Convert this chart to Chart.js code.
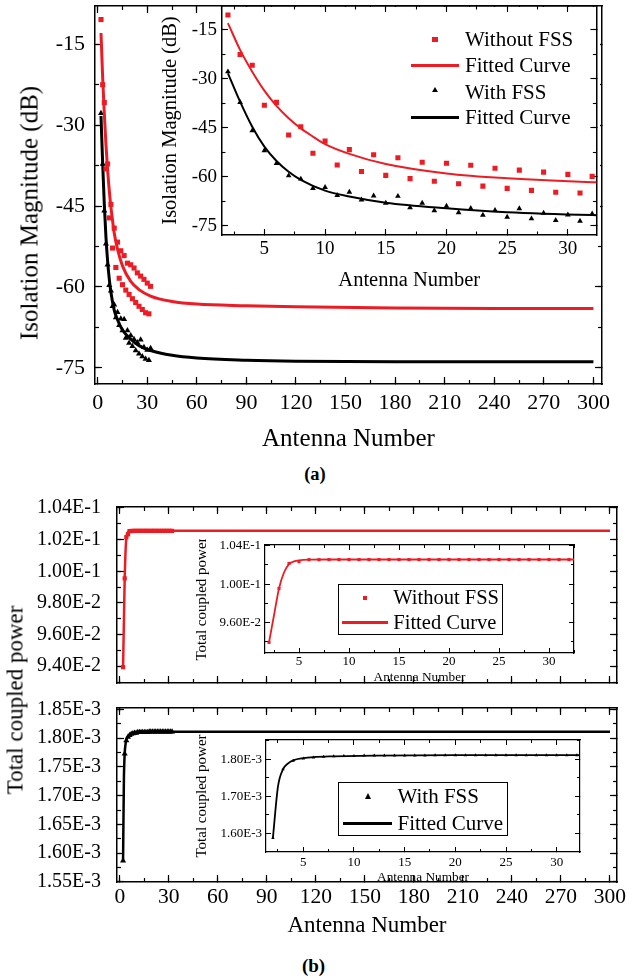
<!DOCTYPE html>
<html>
<head>
<meta charset="utf-8">
<title>Isolation and total coupled power vs antenna number</title>
<script src="https://cdn.jsdelivr.net/npm/chart.js@4.4.1/dist/chart.umd.min.js"></script>
<style>
  html, body { margin: 0; padding: 0; background: #fff; }
  #page { position: relative; width: 633px; height: 978px; overflow: hidden;
          font-family: "Liberation Serif", "Times New Roman", serif; color: #000; }
  #page canvas { position: absolute; }
  .txt { position: absolute; white-space: nowrap; line-height: 1; }
  .rot { transform: translate(-50%, -50%) rotate(-90deg); }
  .ctr { transform: translate(-50%, -50%); }
  .legbox { position: absolute; border: 1px solid #000; box-sizing: border-box; }
  .mk { position: absolute; }
</style>
</head>
<body>
<div id="page">
  <canvas id="aMain"></canvas>
  <canvas id="aInset"></canvas>
  <canvas id="bTop"></canvas>
  <canvas id="bBottom"></canvas>
  <canvas id="bTopInset"></canvas>
  <canvas id="bBottomInset"></canvas>
  <div class="txt rot" style="left:28.5px;top:213px;font-size:25px;">Isolation Magnitude (dB)</div>
  <div class="txt ctr" style="left:315px;top:474px;font-size:18.5px;font-weight:bold;">(a)</div>
  <div class="txt rot" style="left:14.5px;top:700px;font-size:23px;">Total coupled power</div>
  <div class="txt ctr" style="left:313.5px;top:965px;font-size:19px;font-weight:bold;">(b)</div>
</div>
<script>
var FONT = '"Liberation Serif", "Times New Roman", serif';
Chart.defaults.font.family = FONT;
Chart.defaults.color = '#000';

var RED = '#ED1C24';
var BLACK = '#000000';

// measured antennas
var antennaNumber = [2, 3, 4, 5, 6, 7, 8, 9, 10, 11, 12, 13, 14, 15, 16, 17,
  18, 19, 20, 21, 22, 23, 24, 25, 26, 27, 28, 29, 30, 31, 32];

// (a) isolation magnitude (dB)
var isoWithoutFss = [-10.4, -22.5, -25.8, -38.1, -37.2, -47.2, -44.7, -52.8, -49.1, -56.4,
  -51.7, -58.4, -53.3, -59.6, -54.2, -60.6, -55.6, -61.4, -55.9, -62.2, -56.5, -62.9,
  -57.4, -63.6, -58.0, -64.2, -58.6, -64.8, -59.3, -65.0, -59.9];
var isoWithFss = [-27.8, -37.2, -45.9, -52.0, -55.9, -59.7, -60.7, -63.6, -63.3, -65.7,
  -64.7, -67.1, -65.9, -68.1, -66.0, -69.5, -68.1, -70.4, -69.0, -71.0, -69.7, -71.8,
  -70.3, -72.4, -69.8, -72.9, -71.2, -73.4, -71.7, -73.6, -71.4];

// fitted curves
var isoFitWithoutX = [2, 3, 4, 5, 6, 7, 8, 9, 10, 12, 15, 20, 25, 32, 45, 60, 90, 120, 180, 240, 300];
var isoFitWithoutY = [-12.9, -21.1, -27.8, -33.6, -38.3, -42.1, -45.2, -47.7, -50.0, -53.0,
  -56.1, -59.0, -60.5, -61.7, -62.7, -63.2, -63.5, -63.7, -63.9, -64.0, -64.0];
var isoFitWithX = [2, 3, 4, 5, 6, 7, 8, 10, 12, 15, 20, 25, 32, 45, 60, 90, 120, 180, 240, 300];
var isoFitWithY = [-28.3, -37.0, -44.7, -50.8, -55.2, -58.5, -61.0, -64.3, -66.1, -68.0,
  -69.7, -70.9, -71.8, -72.7, -73.2, -73.6, -73.8, -73.9, -73.9, -73.9];

// (b) total coupled power
var powerWithoutFss = [0.09394, 0.09955, 0.10215, 0.10233, 0.10254, 0.10254, 0.10255,
  0.10255, 0.10255, 0.10255, 0.10255, 0.10255, 0.10255, 0.10255, 0.10255, 0.10255,
  0.10255, 0.10255, 0.10255, 0.10255, 0.10255, 0.10255, 0.10255, 0.10255, 0.10255,
  0.10255, 0.10255, 0.10255, 0.10255, 0.10255, 0.10255];
var powerWithFss = [0.001587, 0.001773, 0.001796, 0.001802, 0.001805, 0.001807, 0.001808,
  0.001809, 0.001809, 0.00181, 0.00181, 0.00181, 0.00181, 0.00181, 0.00181, 0.00181,
  0.001811, 0.001811, 0.001811, 0.001811, 0.001811, 0.001811, 0.001811, 0.001811,
  0.001811, 0.001811, 0.001811, 0.001811, 0.001811, 0.001811, 0.001811];

var powerFitWithoutX = [2, 2.5, 3, 3.5, 4, 4.5, 5, 6, 8, 12, 20, 32, 60, 120, 200, 300];
var powerFitWithoutY = [0.09394, 0.09676, 0.09955, 0.10121, 0.10209, 0.10236, 0.10247,
  0.10254, 0.10256, 0.10256, 0.10256, 0.10256, 0.10256, 0.10256, 0.10256, 0.10256];
var powerFitWithX = [2, 2.5, 3, 3.5, 4, 5, 6, 8, 12, 20, 32, 60, 120, 200, 300];
var powerFitWithY = [0.001587, 0.001726, 0.001773, 0.001789, 0.001797, 0.001803, 0.001806,
  0.001808, 0.00181, 0.001811, 0.001811, 0.001811, 0.001811, 0.001811, 0.001811];

// tick labels
var mainXTicks = [0, 30, 60, 90, 120, 150, 180, 210, 240, 270, 300];
var insetXTicks = [5, 10, 15, 20, 25, 30];
var isoYTicks = [-75, -60, -45, -30, -15];
var powerTopYTicks = [0.094, 0.096, 0.098, 0.100, 0.102, 0.104];
var powerBottomYTicks = [0.00155, 0.0016, 0.00165, 0.0017, 0.00175, 0.0018, 0.00185];
var powerTopInsetYTicks = [0.096, 0.100, 0.104];
var powerBottomInsetYTicks = [0.0016, 0.0017, 0.0018];


function pts(xs, ys) {
  return xs.map(function(x, i) { return {x: x, y: ys[i]}; });
}

function sci(v) {
  return v.toExponential(2).replace('e', 'E');
}

function minorValues(a) {
  var start = Math.min.apply(null, a.ticks);
  while (start - a.minor >= a.min) start -= a.minor;
  var out = [];
  for (var k = 0; start + k * a.minor <= a.max + 1e-12; k++) {
    out.push(parseFloat((start + k * a.minor).toPrecision(12)));
  }
  return out;
}

// box with inward ticks on all four sides, minor ticks on extra zero-size axes
function frameScales(cfg) {
  var scales = {};
  ['x', 'y'].forEach(function(ax) {
    var a = cfg[ax];
    var horiz = ax === 'x';
    var sides = horiz ? ['bottom', 'top'] : ['left', 'right'];
    var minors = minorValues(a);
    sides.forEach(function(side, mirror) {
      [false, true].forEach(function(isMinor) {
        var id = ax + (mirror ? 'Mirror' : '') + (isMinor ? 'Minor' : '');
        var values = isMinor ? minors : a.ticks;
        var main = !mirror && !isMinor;
        var size = main ? a.size : 0;
        scales[id] = {
          type: 'linear',
          axis: ax,
          position: side,
          min: a.min,
          max: a.max,
          weight: isMinor ? 0 : 1,
          border: {display: !isMinor, color: '#000', width: cfg.border},
          grid: {
            drawOnChartArea: false,
            drawTicks: true,
            tickLength: -(isMinor ? cfg.minorLen : cfg.majorLen),
            tickColor: '#000',
            tickWidth: cfg.tickWidth
          },
          ticks: {
            display: main && a.labels !== false,
            padding: a.pad || 0,
            font: {size: a.font || 12},
            color: '#000',
            autoSkip: false,
            maxRotation: 0,
            callback: a.fmt || function(v) { return String(v); }
          },
          title: {
            display: main && !!a.title,
            text: a.title || '',
            color: '#000',
            font: {size: a.titleFont || 12},
            padding: horiz ? {top: 0, bottom: a.titlePad || 0} : {top: a.titlePad || 0, bottom: 0}
          },
          afterBuildTicks: function(s) {
            s.ticks = values.map(function(v) { return {value: v}; });
          },
          afterFit: function(s) {
            if (horiz) s.height = size; else s.width = size;
            s.paddingLeft = s.paddingRight = s.paddingTop = s.paddingBottom = 0;
          }
        };
      });
    });
  });
  return scales;
}

function markers(label, xs, ys, style, color, r) {
  return {
    label: label, data: pts(xs, ys), showLine: false,
    pointStyle: style, pointRadius: r, pointHoverRadius: r,
    pointBackgroundColor: color, pointBorderWidth: 0,
    xAxisID: 'x', yAxisID: 'y'
  };
}

function curve(label, xs, ys, color, w) {
  return {
    label: label, data: pts(xs, ys), showLine: true,
    borderColor: color, backgroundColor: color, borderWidth: w,
    pointRadius: 0, pointHoverRadius: 0, cubicInterpolationMode: 'monotone',
    xAxisID: 'x', yAxisID: 'y'
  };
}

var insetPaper = {
  id: 'insetPaper',
  beforeDraw: function(chart) {
    var a = chart.chartArea, ctx = chart.ctx;
    ctx.save();
    ctx.fillStyle = '#fff';
    ctx.fillRect(a.left, a.top + 1, chart.width - a.left, a.bottom - a.top - 1);
    ctx.restore();
  }
};

function plot(id, box, pad, scaleCfg, datasets, plugins) {
  var cv = document.getElementById(id);
  cv.width = box.w;
  cv.height = box.h;
  cv.style.left = box.x + 'px';
  cv.style.top = box.y + 'px';
  return new Chart(cv.getContext('2d'), {
    type: 'scatter',
    data: {datasets: datasets},
    options: {
      responsive: false,
      animation: false,
      devicePixelRatio: 1,
      layout: {padding: {left: 0, top: pad.t, right: pad.r, bottom: 0}},
      plugins: {legend: {display: false}, tooltip: {enabled: false}},
      scales: frameScales(scaleCfg)
    },
    plugins: plugins || []
  });
}

function drawLegend(chart, rows, opt) {
  var page = document.getElementById('page');
  if (opt.box) {
    var b = document.createElement('div');
    b.className = 'legbox';
    b.style.left = opt.box[0] + 'px';
    b.style.top = opt.box[1] + 'px';
    b.style.width = opt.box[2] + 'px';
    b.style.height = opt.box[3] + 'px';
    page.appendChild(b);
  }
  chart.data.datasets.forEach(function(ds, i) {
    var r = rows[i];
    var m = document.createElement('div');
    m.className = 'mk';
    if (ds.showLine) {
      m.style.left = opt.lineX[0] + 'px';
      m.style.top = (r.my - opt.lineW / 2) + 'px';
      m.style.width = (opt.lineX[1] - opt.lineX[0]) + 'px';
      m.style.height = opt.lineW + 'px';
      m.style.background = ds.borderColor;
    } else if (ds.pointStyle === 'triangle') {
      m.style.left = (r.mx - opt.tri[0] / 2) + 'px';
      m.style.top = (r.my - opt.tri[1] / 2) + 'px';
      m.style.width = '0px';
      m.style.height = '0px';
      m.style.borderLeft = (opt.tri[0] / 2) + 'px solid transparent';
      m.style.borderRight = (opt.tri[0] / 2) + 'px solid transparent';
      m.style.borderBottom = opt.tri[1] + 'px solid ' + ds.pointBackgroundColor;
    } else {
      m.style.left = (r.mx - opt.sq / 2) + 'px';
      m.style.top = (r.my - opt.sq / 2) + 'px';
      m.style.width = opt.sq + 'px';
      m.style.height = opt.sq + 'px';
      m.style.background = ds.pointBackgroundColor;
    }
    page.appendChild(m);
    var t = document.createElement('div');
    t.className = 'txt';
    t.textContent = ds.label;
    t.style.left = r.tx + 'px';
    t.style.top = (r.ty - opt.font / 2) + 'px';
    t.style.fontSize = opt.font + 'px';
    page.appendChild(t);
  });
}

// ---------------------------------------------------------------- (a)

plot('aMain', {x: 0, y: -4, w: 633, h: 462}, {t: 10, r: 31}, {
  border: 1.5, majorLen: 7, minorLen: 4, tickWidth: 1.2,
  x: {min: -1.63, max: 305.2, ticks: mainXTicks, minor: 15, font: 22, pad: 13, size: 74,
      title: 'Antenna Number', titleFont: 25, titlePad: 4},
  y: {min: -78.02, max: -7.89, ticks: isoYTicks, minor: 7.5, font: 22, pad: 17, size: 95}
}, [
  markers('Without FSS', antennaNumber, isoWithoutFss, 'rect', RED, 3.6),
  curve('Fitted Curve', isoFitWithoutX, isoFitWithoutY, RED, 3),
  markers('With FSS', antennaNumber, isoWithFss, 'triangle', BLACK, 3.5),
  curve('Fitted Curve', isoFitWithX, isoFitWithY, BLACK, 3)
]);

var aInset = plot('aInset', {x: 157, y: 1, w: 443, h: 292}, {t: 5, r: 2}, {
  border: 1.5, majorLen: 6, minorLen: 3.5, tickWidth: 1.1,
  x: {min: 1.51, max: 32.35, ticks: insetXTicks, minor: 2.5, font: 19, pad: 9, size: 58,
      title: 'Antenna Number', titleFont: 20.5, titlePad: 0},
  y: {min: -77.9, max: -7.64, ticks: isoYTicks, minor: 7.5, font: 19, pad: 11, size: 65,
      title: 'Isolation Magnitude (dB)', titleFont: 20.5, titlePad: 1}
}, [
  markers('Without FSS', antennaNumber, isoWithoutFss, 'rect', RED, 3.6),
  curve('Fitted Curve', isoFitWithoutX, isoFitWithoutY, RED, 2),
  markers('With FSS', antennaNumber, isoWithFss, 'triangle', BLACK, 3.3),
  curve('Fitted Curve', isoFitWithX, isoFitWithY, BLACK, 2)
], [insetPaper]);

drawLegend(aInset, [
  {mx: 435, my: 39.5, tx: 465, ty: 39.5},
  {mx: 435, my: 65.7, tx: 465, ty: 65.5},
  {mx: 435, my: 90, tx: 465, ty: 92},
  {mx: 435, my: 117.7, tx: 465, ty: 117.5}
], {font: 21, sq: 5.3, tri: [6, 5.5], lineX: [411, 459], lineW: 2.5});

// ---------------------------------------------------------------- (b)

plot('bTop', {x: 0, y: 495, w: 633, h: 196}, {t: 12, r: 16}, {
  border: 1.5, majorLen: 7, minorLen: 4, tickWidth: 1.2,
  x: {min: -1.71, max: 304.3, ticks: mainXTicks, minor: 15, labels: false, size: 8},
  y: {min: 0.09294, max: 0.10406, ticks: powerTopYTicks, minor: 0.001, font: 20, pad: 23,
      size: 117, fmt: sci}
}, [
  markers('Without FSS', antennaNumber, powerWithoutFss, 'rect', RED, 3),
  curve('Fitted Curve', powerFitWithoutX, powerFitWithoutY, RED, 2.5)
]);

plot('bBottom', {x: 0, y: 700, w: 633, h: 244}, {t: 8, r: 16}, {
  border: 1.5, majorLen: 7, minorLen: 4, tickWidth: 1.2,
  x: {min: -1.71, max: 304.3, ticks: mainXTicks, minor: 15, font: 21.5, pad: 9, size: 62,
      title: 'Antenna Number', titleFont: 23, titlePad: 4},
  y: {min: 0.0015499, max: 0.0018523, ticks: powerBottomYTicks, minor: 0.000025, font: 20,
      pad: 23, size: 117, fmt: sci}
}, [
  markers('With FSS', antennaNumber, powerWithFss, 'triangle', BLACK, 3.5),
  curve('Fitted Curve', powerFitWithX, powerFitWithY, BLACK, 2.5)
]);

var bTopInset = plot('bTopInset', {x: 193, y: 539, w: 387, h: 146}, {t: 6, r: 6}, {
  border: 1.2, majorLen: 5, minorLen: 3, tickWidth: 1,
  x: {min: 1.6, max: 32.5, ticks: insetXTicks, minor: 2.5, font: 13, pad: 6, size: 32,
      title: 'Antenna Number', titleFont: 13.3, titlePad: 0},
  y: {min: 0.09283, max: 0.10407, ticks: powerTopInsetYTicks, minor: 0.002, font: 13, pad: 9,
      size: 72, fmt: sci, title: 'Total coupled power', titleFont: 15, titlePad: 0.5}
}, [
  markers('Without FSS', antennaNumber, powerWithoutFss, 'rect', RED, 2.2),
  curve('Fitted Curve', powerFitWithoutX, powerFitWithoutY, RED, 1.8)
], [insetPaper]);

drawLegend(bTopInset, [
  {mx: 365, my: 597.7, tx: 393.3, ty: 597.5},
  {mx: 365, my: 622.3, tx: 393.3, ty: 622.5}
], {font: 20.5, sq: 4.2, tri: [6, 6], lineX: [342, 388], lineW: 2.5, box: [338, 584, 165, 51]});

var bBottomInset = plot('bBottomInset', {x: 193, y: 734, w: 393, h: 152}, {t: 6, r: 6}, {
  border: 1.2, majorLen: 5, minorLen: 3, tickWidth: 1,
  x: {min: 1.32, max: 32.3, ticks: insetXTicks, minor: 2.5, font: 13, pad: 8, size: 34,
      title: 'Antenna Number', titleFont: 13.3, titlePad: 0.5},
  y: {min: 0.0015495, max: 0.001852, ticks: powerBottomInsetYTicks, minor: 0.00005, font: 13,
      pad: 9, size: 73, fmt: sci, title: 'Total coupled power', titleFont: 15, titlePad: 0.5}
}, [
  markers('With FSS', antennaNumber, powerWithFss, 'triangle', BLACK, 2),
  curve('Fitted Curve', powerFitWithX, powerFitWithY, BLACK, 1.8)
], [insetPaper]);

drawLegend(bBottomInset, [
  {mx: 368, my: 796.5, tx: 397.5, ty: 796.5},
  {mx: 368, my: 823.3, tx: 397.5, ty: 823.5}
], {font: 21, sq: 4, tri: [6.5, 6.3], lineX: [342.7, 392], lineW: 2.5, box: [338, 781.5, 170, 54]});
</script>
</body>
</html>
